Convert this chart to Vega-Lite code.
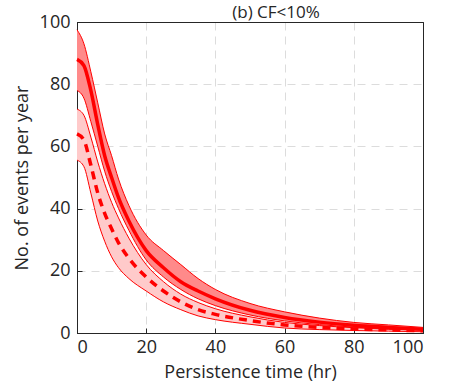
{
  "$schema": "https://vega.github.io/schema/vega-lite/v6.json",
  "autosize": {"type": "none"},
  "width": 346,
  "height": 311,
  "padding": {"left": 77, "top": 22, "right": 40, "bottom": 50},
  "background": "white",
  "title": {"text": "(b) CF<10%", "fontSize": 17, "font": "Open Sans", "fontWeight": "normal", "color": "#262626", "anchor": "middle", "dx": 26, "offset": -9},
  "config": {
    "view": {"stroke": "#262626", "strokeWidth": 1},
    "axis": {
      "labelFont": "Open Sans", "titleFont": "Open Sans", "labelFontSize": 18, "titleFontSize": 18,
      "labelColor": "#262626", "titleColor": "#262626", "titleFontWeight": "normal",
      "domainColor": "#262626", "tickColor": "#262626", "tickSize": -5,
      "gridColor": {"condition": {"test": "datum.value === 100 || datum.value === 0", "value": "#262626"}, "value": "#dcdcdc"},
      "gridDash": {"condition": {"test": "datum.value === 100 || datum.value === 0", "value": []}, "value": [8, 6]},
      "gridWidth": 1
    }
  },
  "data": {"values": [
    {"t": 0, "u1": 97.5, "s": 88, "l1": 78, "u2": 72, "d": 64, "l2": 55.6},
    {"t": 2, "u1": 93, "s": 86, "l1": 75.5, "u2": 70, "d": 62, "l2": 53.5},
    {"t": 4, "u1": 84, "s": 78, "l1": 68, "u2": 63, "d": 54, "l2": 45},
    {"t": 6, "u1": 74, "s": 67, "l1": 60, "u2": 55, "d": 45, "l2": 36},
    {"t": 8, "u1": 64, "s": 57, "l1": 52, "u2": 48, "d": 38.5, "l2": 29.5},
    {"t": 10, "u1": 57, "s": 50, "l1": 45.5, "u2": 42, "d": 33.5, "l2": 24.5},
    {"t": 12, "u1": 49.5, "s": 43.5, "l1": 40, "u2": 37, "d": 29, "l2": 21},
    {"t": 15, "u1": 41, "s": 36, "l1": 33, "u2": 30.5, "d": 24, "l2": 17.5},
    {"t": 20, "u1": 31.5, "s": 26.5, "l1": 23.5, "u2": 22, "d": 18, "l2": 13.5},
    {"t": 25, "u1": 26.5, "s": 21, "l1": 18, "u2": 16.5, "d": 13.5, "l2": 10},
    {"t": 30, "u1": 22, "s": 16.5, "l1": 14, "u2": 12.5, "d": 10, "l2": 7.5},
    {"t": 35, "u1": 17.5, "s": 13.5, "l1": 11, "u2": 9.8, "d": 7.5, "l2": 5.5},
    {"t": 40, "u1": 14, "s": 11, "l1": 8.8, "u2": 7.8, "d": 6, "l2": 4.3},
    {"t": 50, "u1": 9.5, "s": 7.3, "l1": 5.8, "u2": 5.2, "d": 4, "l2": 2.8},
    {"t": 60, "u1": 6.8, "s": 5, "l1": 3.9, "u2": 3.4, "d": 2.6, "l2": 1.6},
    {"t": 70, "u1": 4.8, "s": 3.5, "l1": 2.7, "u2": 2.4, "d": 1.8, "l2": 1.1},
    {"t": 80, "u1": 3.4, "s": 2.5, "l1": 1.9, "u2": 1.7, "d": 1.3, "l2": 0.8},
    {"t": 90, "u1": 2.6, "s": 1.8, "l1": 1.3, "u2": 1.2, "d": 1, "l2": 0.6},
    {"t": 100, "u1": 1.8, "s": 1.2, "l1": 1, "u2": 0.9, "d": 0.7, "l2": 0.4}
  ]},
  "encoding": {
    "x": {"field": "t", "type": "quantitative", "scale": {"domain": [0, 100], "nice": false}, "axis": {"values": [0, 20, 40, 60, 80, 100], "title": "Persistence time (hr)", "titlePadding": 7, "labelPadding": 10}}
  },
  "layer": [
    {"mark": {"type": "area", "color": "#ff8a8a", "interpolate": "monotone"},
     "encoding": {"y": {"field": "u1", "type": "quantitative", "scale": {"domain": [0, 100], "nice": false}, "axis": {"values": [0, 20, 40, 60, 80, 100], "title": "No. of events per year", "titlePadding": 8, "labelPadding": 12}}, "y2": {"field": "l1"}}},
    {"mark": {"type": "area", "color": "#ffcaca", "interpolate": "monotone"},
     "encoding": {"y": {"field": "u2", "type": "quantitative"}, "y2": {"field": "l2"}}},
    {"mark": {"type": "line", "color": "#ff0000", "strokeWidth": 1, "interpolate": "monotone"}, "encoding": {"y": {"field": "u1", "type": "quantitative"}}},
    {"mark": {"type": "line", "color": "#ff0000", "strokeWidth": 1, "interpolate": "monotone"}, "encoding": {"y": {"field": "l1", "type": "quantitative"}}},
    {"mark": {"type": "line", "color": "#ff0000", "strokeWidth": 1, "interpolate": "monotone"}, "encoding": {"y": {"field": "u2", "type": "quantitative"}}},
    {"mark": {"type": "line", "color": "#ff0000", "strokeWidth": 1, "interpolate": "monotone"}, "encoding": {"y": {"field": "l2", "type": "quantitative"}}},
    {"mark": {"type": "line", "color": "#ff0000", "strokeWidth": 3.5, "interpolate": "monotone"}, "encoding": {"y": {"field": "s", "type": "quantitative"}}},
    {"mark": {"type": "line", "color": "#ff0000", "strokeWidth": 3.5, "strokeDash": [8, 6], "interpolate": "monotone"}, "encoding": {"y": {"field": "d", "type": "quantitative"}}}
  ]
}
